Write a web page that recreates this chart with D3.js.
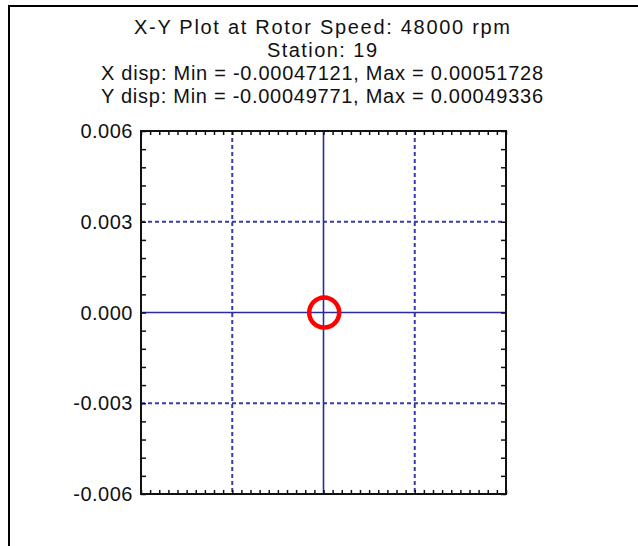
<!DOCTYPE html>
<html>
<head>
<meta charset="utf-8">
<script src="https://cdn.jsdelivr.net/npm/d3@7"></script>
<style>
  html, body { margin: 0; padding: 0; background: #fff; }
  svg { display: block; }
  text { font-family: "Liberation Sans", Arial, sans-serif; fill: #111; }
</style>
</head>
<body>
<svg id="chart" width="638" height="546"></svg>
<script>
// ---- data ----
const titleLines = [
  "X-Y Plot at Rotor Speed: 48000 rpm",
  "Station: 19",
  "X disp: Min = -0.00047121, Max = 0.00051728",
  "Y disp: Min = -0.00049771, Max = 0.00049336"
];
const yTickLabels = ["0.006", "0.003", "0.000", "-0.003", "-0.006"];
const yTickValues = [0.006, 0.003, 0, -0.003, -0.006];
const gridDashed = [-0.003, 0.003];
const gridSolid = [0];
// orbit (x, y displacement)
const orbitX = [0.000517, 0.000479, 0.000372, 0.000212, 0.000023, -0.000166, -0.000326, -0.000433,
                -0.000471, -0.000433, -0.000326, -0.000166, 0.000023, 0.000212, 0.000372, 0.000479];
const orbitY = [-0.000002, 0.000187, 0.000347, 0.000455, 0.000493, 0.000455, 0.000347, 0.000187,
                -0.000002, -0.000191, -0.000351, -0.000460, -0.000498, -0.000460, -0.000351, -0.000191];

// ---- layout ----
const svg = d3.select("#chart");
const L = 141, R = 506, T = 131, B = 494;
const x = d3.scaleLinear().domain([-0.006, 0.006]).range([L, R]);
const y = d3.scaleLinear().domain([-0.006, 0.006]).range([B, T]);

// page frame (top and left edges)
svg.append("line").attr("x1", 8).attr("x2", 638).attr("y1", 6).attr("y2", 6)
  .attr("stroke", "#000").attr("stroke-width", 2);
svg.append("line").attr("x1", 9).attr("x2", 9).attr("y1", 5).attr("y2", 546)
  .attr("stroke", "#000").attr("stroke-width", 2);

// titles
const titleY = [34, 57, 80, 103];
const titleW = [376, 110, 442, 442];
titleLines.forEach((t, i) => {
  svg.append("text").attr("x", 322).attr("y", titleY[i])
    .attr("text-anchor", "middle").attr("font-size", 20)
    .attr("textLength", titleW[i]).attr("lengthAdjust", "spacing")
    .text(t);
});

// grid
const gridColor = "#3a3ab0";
gridDashed.forEach(v => {
  svg.append("line").attr("x1", x(v)).attr("x2", x(v)).attr("y1", T).attr("y2", B)
    .attr("stroke", gridColor).attr("stroke-width", 2).attr("stroke-dasharray", "4,3");
  svg.append("line").attr("y1", y(v)).attr("y2", y(v)).attr("x1", L).attr("x2", R)
    .attr("stroke", gridColor).attr("stroke-width", 2).attr("stroke-dasharray", "4,3");
});
gridSolid.forEach(v => {
  svg.append("line").attr("x1", x(v)).attr("x2", x(v)).attr("y1", T).attr("y2", B)
    .attr("stroke", "#2b2b9e").attr("stroke-width", 1.6);
  svg.append("line").attr("y1", y(v)).attr("y2", y(v)).attr("x1", L).attr("x2", R)
    .attr("stroke", "#2b2b9e").attr("stroke-width", 1.6);
});

// axes (ticks inward)
const xMinor = d3.range(-0.006, 0.0060001, 0.0003);
const yMinor = d3.range(-0.006, 0.0060001, 0.0006);
const fmt = d => "";
svg.append("g").attr("transform", `translate(0,${B})`)
  .call(d3.axisTop(x).tickValues(xMinor).tickSize(4).tickFormat(fmt).tickSizeOuter(0))
  .call(g => g.select(".domain").remove());
svg.append("g").attr("transform", `translate(0,${T})`)
  .call(d3.axisBottom(x).tickValues(xMinor).tickSize(4).tickFormat(fmt).tickSizeOuter(0))
  .call(g => g.select(".domain").remove());
svg.append("g").attr("transform", `translate(${L},0)`)
  .call(d3.axisRight(y).tickValues(yMinor).tickSize(5).tickFormat(fmt).tickSizeOuter(0))
  .call(g => g.select(".domain").remove());
svg.append("g").attr("transform", `translate(${R},0)`)
  .call(d3.axisLeft(y).tickValues(yMinor).tickSize(5).tickFormat(fmt).tickSizeOuter(0))
  .call(g => g.select(".domain").remove());
svg.selectAll(".tick line").attr("stroke", "#111").attr("stroke-width", 1.5);

// frame
svg.append("rect").attr("x", L).attr("y", T).attr("width", R - L).attr("height", B - T)
  .attr("fill", "none").attr("stroke", "#111").attr("stroke-width", 2);

// y tick labels
yTickValues.forEach((v, i) => {
  svg.append("text").attr("x", 133).attr("y", y(v)).attr("dy", "0.36em")
    .attr("text-anchor", "end").attr("font-size", 20)
    .attr("letter-spacing", 0.5).text(yTickLabels[i]);
});

// orbit
const pts = orbitX.map((vx, i) => [vx, orbitY[i]]);
const line = d3.line().x(d => x(d[0])).y(d => y(d[1])).curve(d3.curveCardinalClosed);
svg.append("path").attr("d", line(pts)).attr("fill", "none")
  .attr("stroke", "#ff0000").attr("stroke-width", 4.5);
</script>
</body>
</html>
